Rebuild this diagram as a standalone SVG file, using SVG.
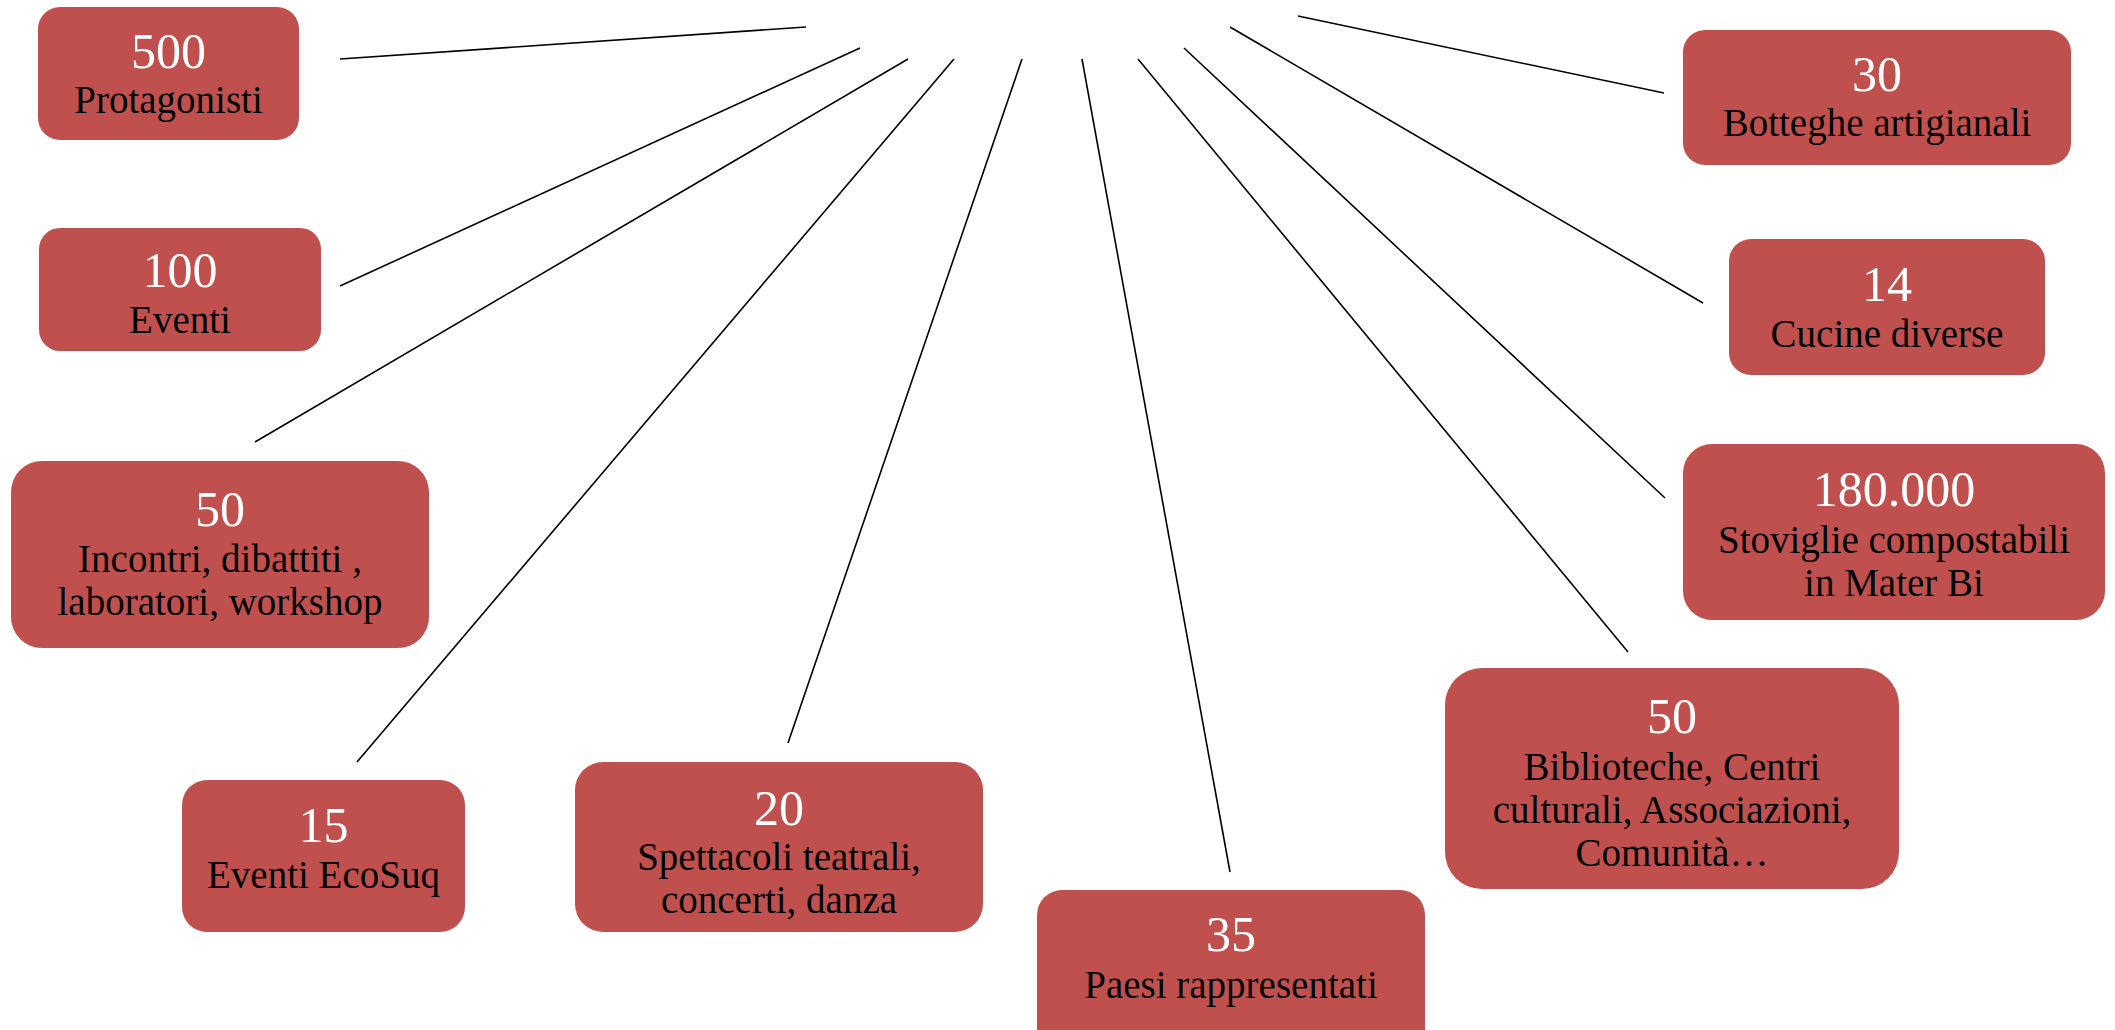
<svg xmlns="http://www.w3.org/2000/svg" width="2115" height="1030" viewBox="0 0 2115 1030">
<style>
.box{fill:#C0504D;stroke:none}
.num{font-family:"Liberation Serif",serif;font-size:50px;fill:#FFFFFF;text-anchor:middle}
.lbl{font-family:"Liberation Serif",serif;font-size:39px;fill:#000000;text-anchor:middle}
.conn line{stroke:#000000;stroke-width:1.6;fill:none}
</style>
<rect width="2115" height="1030" fill="#FFFFFF"/>
<g id="connectors" class="conn">
<line x1="340" y1="59" x2="806" y2="27"/>
<line x1="340" y1="286" x2="860" y2="48"/>
<line x1="255" y1="442" x2="908" y2="59"/>
<line x1="357" y1="762" x2="954" y2="59"/>
<line x1="788" y1="743" x2="1022" y2="59"/>
<line x1="1230" y1="872" x2="1082" y2="59"/>
<line x1="1628" y1="652" x2="1138" y2="59"/>
<line x1="1665" y1="498" x2="1184" y2="48"/>
<line x1="1703" y1="303" x2="1230" y2="27"/>
<line x1="1664" y1="93" x2="1298" y2="16"/>
</g>
<g id="n-protagonisti">
<rect class="box" x="38" y="7" width="261" height="133" rx="22"/>
<text class="num" x="168.5" y="68">500</text>
<text class="lbl" x="168.5" y="113">Protagonisti</text>
</g>
<g id="n-eventi">
<rect class="box" x="39" y="228" width="282" height="123" rx="21"/>
<text class="num" x="180" y="287">100</text>
<text class="lbl" x="180" y="333">Eventi</text>
</g>
<g id="n-incontri">
<rect class="box" x="11" y="461" width="418" height="187" rx="31"/>
<text class="num" x="220" y="526">50</text>
<text class="lbl" x="220" y="572">Incontri, dibattiti ,</text>
<text class="lbl" x="220" y="615">laboratori, workshop</text>
</g>
<g id="n-ecosuq">
<rect class="box" x="182" y="780" width="283" height="152" rx="25"/>
<text class="num" x="323.5" y="842">15</text>
<text class="lbl" x="323.5" y="888">Eventi EcoSuq</text>
</g>
<g id="n-spettacoli">
<rect class="box" x="575" y="762" width="408" height="170" rx="28"/>
<text class="num" x="779" y="825">20</text>
<text class="lbl" x="779" y="870">Spettacoli teatrali,</text>
<text class="lbl" x="779" y="913">concerti, danza</text>
</g>
<g id="n-paesi">
<rect class="box" x="1037" y="890" width="388" height="170" rx="25"/>
<text class="num" x="1231" y="951">35</text>
<text class="lbl" x="1231" y="998">Paesi rappresentati</text>
</g>
<g id="n-biblioteche">
<rect class="box" x="1445" y="668" width="454" height="221" rx="37"/>
<text class="num" x="1672" y="733">50</text>
<text class="lbl" x="1672" y="780">Biblioteche, Centri</text>
<text class="lbl" x="1672" y="823">culturali, Associazioni,</text>
<text class="lbl" x="1672" y="866">Comunità…</text>
</g>
<g id="n-stoviglie">
<rect class="box" x="1683" y="444" width="422" height="176" rx="29"/>
<text class="num" x="1894" y="506">180.000</text>
<text class="lbl" x="1894" y="553">Stoviglie compostabili</text>
<text class="lbl" x="1894" y="596">in Mater Bi</text>
</g>
<g id="n-cucine">
<rect class="box" x="1729" y="239" width="316" height="136" rx="22"/>
<text class="num" x="1887" y="301">14</text>
<text class="lbl" x="1887" y="347">Cucine diverse</text>
</g>
<g id="n-botteghe">
<rect class="box" x="1683" y="30" width="388" height="135" rx="22"/>
<text class="num" x="1877" y="91">30</text>
<text class="lbl" x="1877" y="136">Botteghe artigianali</text>
</g>
</svg>
